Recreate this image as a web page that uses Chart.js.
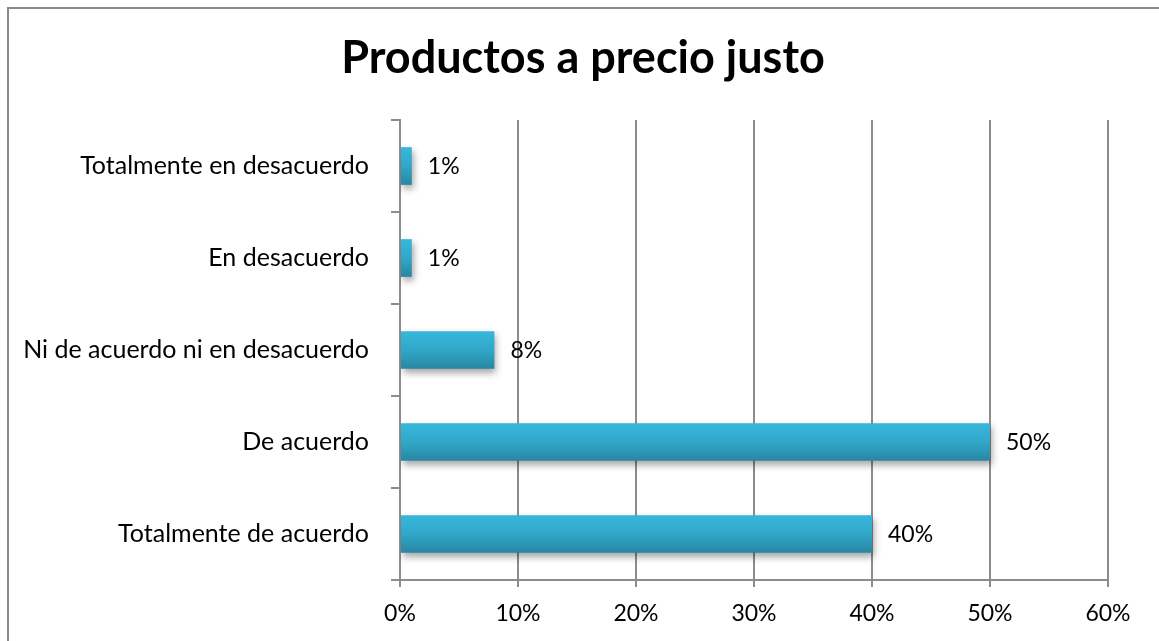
<!DOCTYPE html>
<html>
<head>
<meta charset="utf-8">
<script src="https://cdn.jsdelivr.net/npm/chart.js@4"></script>
<style>
  html, body { margin: 0; padding: 0; background: #ffffff; }
  #wrap { position: relative; width: 1159px; height: 641px; overflow: hidden; }
  #frame {
    position: absolute; left: 7px; top: 7px; width: 1200px; height: 700px;
    border-left: 2px solid #8a8a8a; border-top: 2px solid #8a8a8a;
    box-sizing: border-box; pointer-events: none;
  }
  canvas { position: absolute; left: 0; top: 0; }
</style>
</head>
<body>
<div id="wrap">
  <canvas id="chart" width="1159" height="641"></canvas>
  <div id="frame"></div>
</div>
<script>
const chartTitle = 'Productos a precio justo';
const categories = [
  'Totalmente en desacuerdo',
  'En desacuerdo',
  'Ni de acuerdo ni en desacuerdo',
  'De acuerdo',
  'Totalmente de acuerdo'
];
const percentValues = [1, 1, 8, 50, 40];
const tickValues = [0, 10, 20, 30, 40, 50, 60];

const FONT = 'Lato, "Open Sans", sans-serif';
const BAR_FRACTION = 0.41;

// Vertical teal gradient over each bar's own height
function barGradient(context) {
  const chart = context.chart;
  const yScale = chart.scales.y;
  if (!yScale || !chart.chartArea) return '#33a9c9';
  const center = yScale.getPixelForValue(context.dataIndex);
  const half = (yScale.height / categories.length) * BAR_FRACTION / 2;
  const g = chart.ctx.createLinearGradient(0, center - half, 0, center + half);
  g.addColorStop(0, '#37b7dc');
  g.addColorStop(0.5, '#31a7c9');
  g.addColorStop(1, '#2886a1');
  return g;
}

// Soft drop shadow under the bars
const barShadow = {
  id: 'barShadow',
  beforeDatasetDraw(chart) {
    const ctx = chart.ctx;
    ctx.save();
    ctx.shadowColor = 'rgba(0,0,0,0.35)';
    ctx.shadowBlur = 7;
    ctx.shadowOffsetX = 2;
    ctx.shadowOffsetY = 4;
  },
  afterDatasetDraw(chart) {
    chart.ctx.restore();
  }
};

// Let the long category labels use the space left of the padding
const widenLabelArea = {
  id: 'widenLabelArea',
  afterLayout(chart) {
    chart.scales.y.left = 10;
  }
};

// Percentage labels just past the end of each bar
const valueLabels = {
  id: 'valueLabels',
  afterDatasetsDraw(chart) {
    const ctx = chart.ctx;
    const meta = chart.getDatasetMeta(0);
    ctx.save();
    ctx.font = '23px ' + FONT;
    ctx.fillStyle = '#000000';
    ctx.textAlign = 'left';
    ctx.textBaseline = 'middle';
    meta.data.forEach((bar, i) => {
      ctx.fillText(percentValues[i] + '%', bar.x + 16, bar.y + 1);
    });
    ctx.restore();
  }
};

new Chart(document.getElementById('chart'), {
  type: 'bar',
  data: {
    labels: categories,
    datasets: [{
      data: percentValues,
      backgroundColor: barGradient,
      borderWidth: 0,
      categoryPercentage: 1,
      barPercentage: BAR_FRACTION
    }]
  },
  options: {
    indexAxis: 'y',
    responsive: false,
    animation: false,
    layout: { padding: { left: 58, right: 51, top: 0, bottom: 0 } },
    plugins: {
      legend: { display: false },
      tooltip: { enabled: false },
      title: {
        display: true,
        text: chartTitle,
        color: '#000000',
        font: { family: FONT, size: 45, weight: 'bold', lineHeight: 1.2 },
        padding: { top: 31, bottom: 35 }
      }
    },
    scales: {
      x: {
        min: 0,
        max: 60,
        afterBuildTicks(scale) {
          scale.ticks = tickValues.map(v => ({ value: v }));
        },
        afterFit(scale) { scale.height = 61; },
        border: { display: true, color: '#8c8c8c', width: 2 },
        grid: {
          color: '#8c8c8c',
          lineWidth: 2,
          drawTicks: true,
          tickLength: 7,
          tickColor: '#8c8c8c'
        },
        ticks: {
          color: '#000000',
          font: { family: FONT, size: 23 },
          padding: 13,
          callback: v => v + '%'
        }
      },
      y: {
        afterFit(scale) { scale.width = 342; },
        border: { display: true, color: '#8c8c8c', width: 2 },
        grid: {
          offset: true,
          drawOnChartArea: false,
          drawTicks: true,
          tickLength: 9,
          color: '#8c8c8c',
          lineWidth: 2
        },
        ticks: {
          color: '#000000',
          font: { family: FONT, size: 25 },
          padding: 22
        }
      }
    }
  },
  plugins: [barShadow, widenLabelArea, valueLabels]
});
</script>
</body>
</html>
